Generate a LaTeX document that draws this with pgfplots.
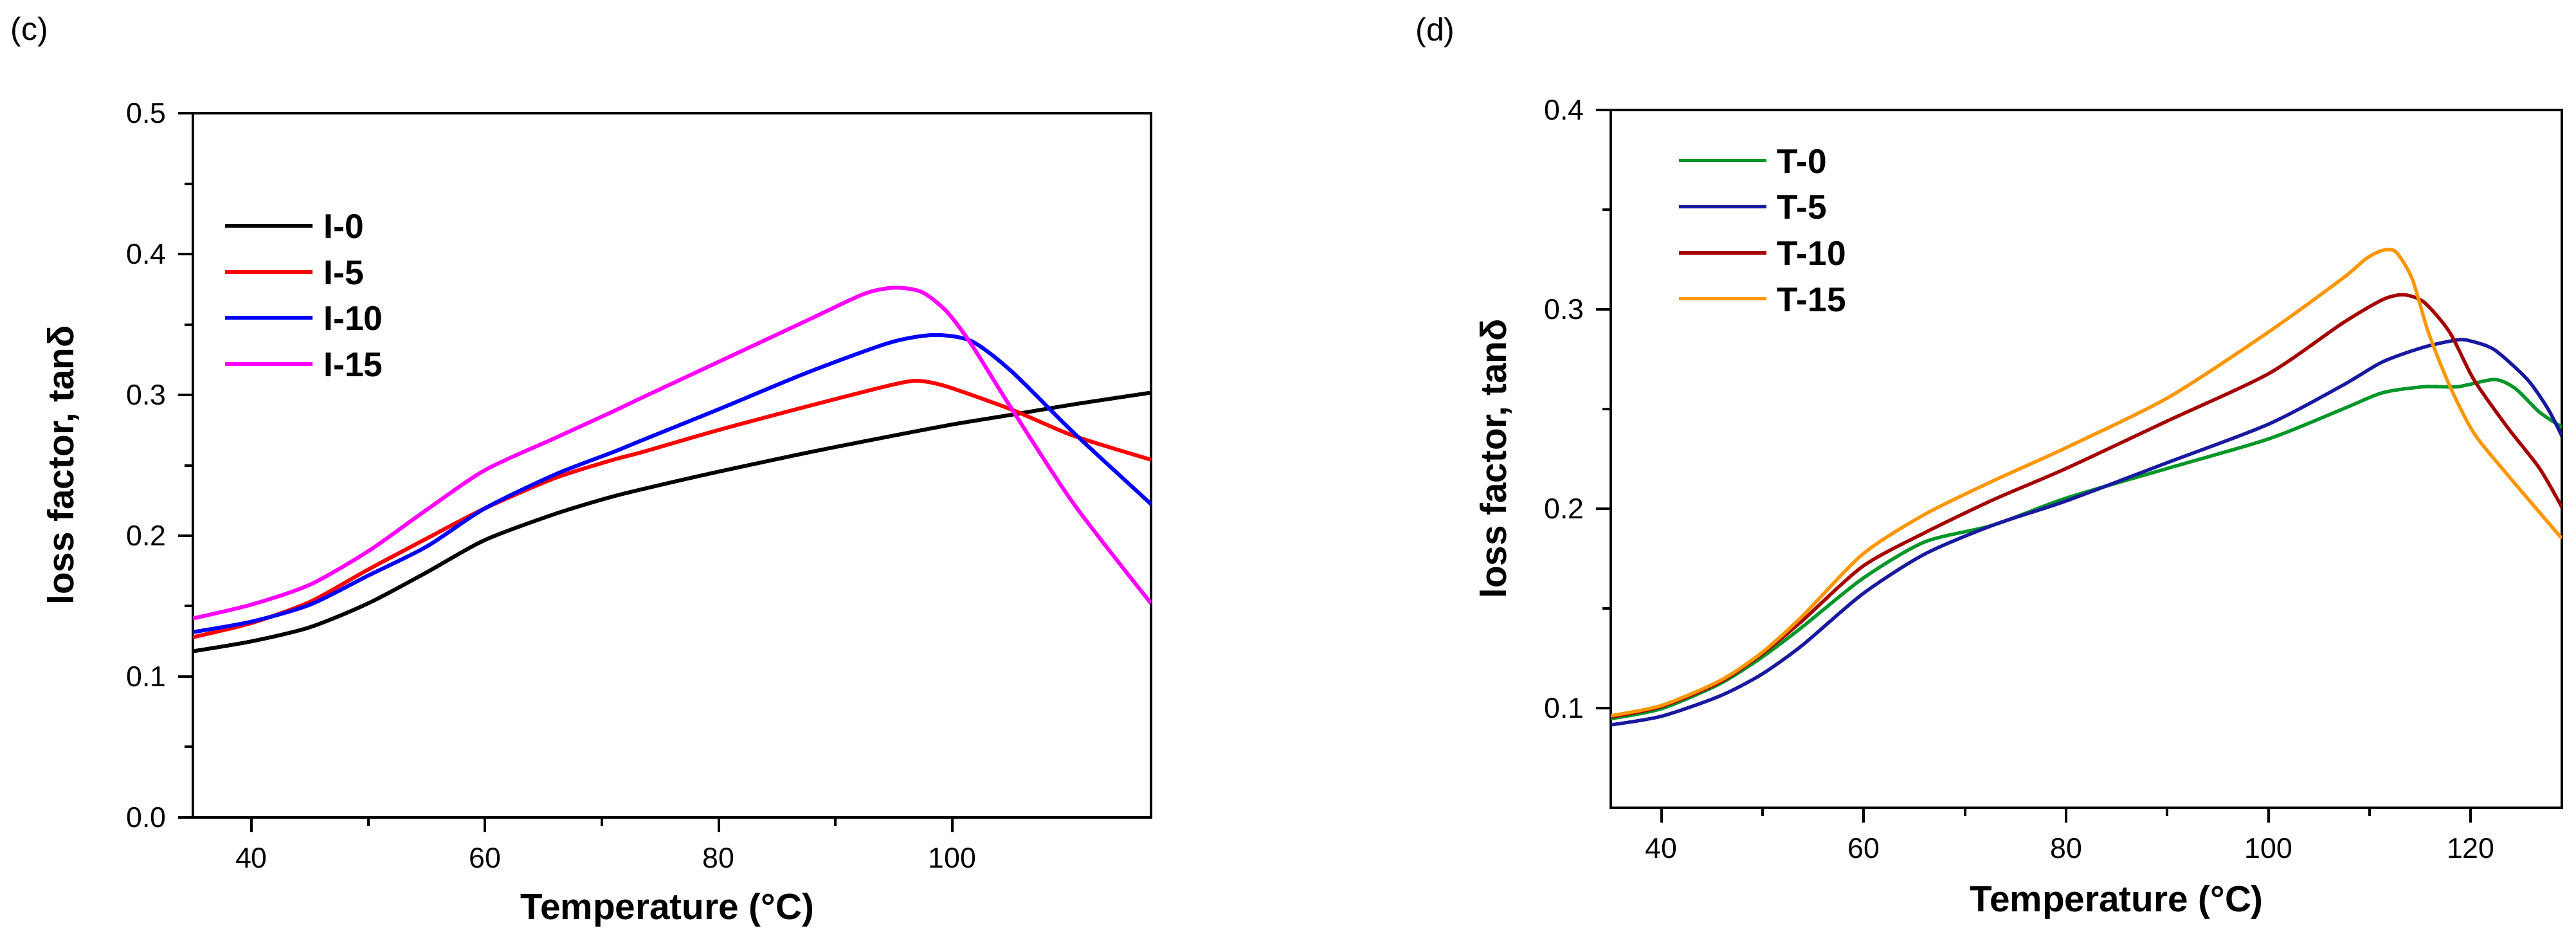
\documentclass[border=0pt]{standalone}
\usepackage{fontspec}
\setmainfont{Liberation Sans}
\usepackage{pgfplots}
\usepackage{pgfplotstable}
\pgfplotsset{compat=1.18}

\definecolor{izero}{RGB}{0,0,0}
\definecolor{ifive}{RGB}{255,0,0}
\definecolor{iten}{RGB}{0,0,255}
\definecolor{ififteen}{RGB}{255,0,255}
\definecolor{tzero}{RGB}{0,150,40}
\definecolor{tfive}{RGB}{25,25,160}
\definecolor{tten}{RGB}{165,0,0}
\definecolor{tfifteen}{RGB}{255,150,0}

% loss factor tan(delta) against temperature, (c) series I, (d) series T
\pgfplotstableread{
T v
35 0.118
40 0.125
45 0.135
50 0.152
55 0.174
60 0.197
66 0.2155
71 0.228
76 0.238
80 0.2455
87.6 0.259
94.6 0.2705
100 0.279
105 0.2858
110.4 0.2933
117 0.3016
}\Izero
\pgfplotstableread{
T v
35 0.128
40 0.138
45 0.153
50 0.176
55 0.198
60 0.2195
66 0.241
71 0.254
73.5 0.2595
80 0.2751
87.6 0.2919
94.6 0.3067
97 0.310
99.5 0.306
105 0.2898
110.4 0.2709
117 0.254
}\Ifive
\pgfplotstableread{
T v
35 0.1316
40 0.139
45 0.151
50 0.1717
55 0.1923
60 0.2195
66 0.2435
71 0.2595
73.5 0.268
80 0.2898
87.6 0.3159
94.6 0.337
98.4 0.3425
101.6 0.3383
105 0.3172
110.4 0.273
117 0.2225
}\Iten
\pgfplotstableread{
T v
35 0.1413
40 0.1511
45 0.1652
50 0.189
55 0.2184
60 0.2466
66 0.2694
71 0.2884
73.5 0.2983
80 0.3235
87.6 0.353
92.5 0.3719
95.1 0.3761
97.4 0.373
99.5 0.3593
101.6 0.3362
105.1 0.2898
110.4 0.2225
117 0.152
}\Ififteen

\pgfplotstableread{
T v
35 0.0947
40 0.0997
45.7 0.112
49.8 0.125
53.85 0.1404
59.9 0.165
66 0.1833
72.8 0.1918
80 0.2053
90 0.2202
100 0.235
107.3 0.2499
111.3 0.2582
115.4 0.2612
118.7 0.2612
122.35 0.2648
124.4 0.2603
126.8 0.2484
129 0.241
}\Tzero
\pgfplotstableread{
T v
35 0.0916
40 0.0959
45.7 0.1059
49.8 0.1166
53.85 0.1312
59.9 0.1573
66 0.1772
72.8 0.1918
80 0.2039
90 0.2231
100 0.2424
107.3 0.2618
111.3 0.2737
115.4 0.2811
118.7 0.2847
120 0.2841
122.35 0.2797
125.6 0.2648
127.65 0.2499
129 0.2365
}\Tfive
\pgfplotstableread{
T v
35 0.0956
40 0.1008
45.7 0.1128
49.8 0.1266
53.85 0.1435
59.9 0.1711
66 0.1879
72.8 0.2045
80 0.2202
90 0.244
100 0.2677
107.3 0.293
111.3 0.3049
113.4 0.3073
115.4 0.3035
117.9 0.2886
120.3 0.2648
123.6 0.241
126.8 0.2202
129 0.2008
}\Tten
\pgfplotstableread{
T v
35 0.0962
40 0.1013
45.7 0.1135
49.8 0.1273
53.85 0.1457
59.9 0.1772
66 0.1971
72.8 0.214
80 0.2306
90.1 0.2558
100 0.2886
107.3 0.3154
109.7 0.3256
111.3 0.3296
112.6 0.3288
114.2 0.3154
115.8 0.2886
117.9 0.2618
120.3 0.238
123.6 0.2172
129 0.1851
}\Tfifteen

\newcommand{\labelfont}{\bfseries\fontsize{8.5}{10}\selectfont}

\pgfplotsset{
  dma/.style={
    scale only axis,
    axis line style={line width=0.6pt},
    tick align=outside,
    xtick pos=bottom, ytick pos=left,
    major tick length=3.45pt,
    minor tick length=2pt,
    every tick/.append style={line width=0.6pt, black},
    minor x tick num=1, minor y tick num=1,
    tick label style={font=\fontsize{6.7}{8}\selectfont},
    /pgf/number format/assume math mode=true,
    yticklabel style={anchor=east, inner sep=0pt, xshift=-2.55pt,
      /pgf/number format/.cd, fixed, fixed zerofill, precision=1},
    xticklabel style={anchor=north, inner sep=0pt, yshift=-3.5pt},
    xlabel={Temperature (°C)},
    ylabel={loss factor, tanδ},
    legend cell align=left,
    legend image code/.code={\draw[##1] (0pt,0pt) -- (20.4pt,0pt);},
    legend style={draw=none, fill=none, inner sep=0pt, outer sep=0pt,
      row sep=4.9pt, column sep=2.2pt, anchor=north west,
      font=\bfseries\fontsize{8}{9.6}\selectfont,
      nodes={inner sep=0pt, text height=5.85pt, text depth=0pt}},
  },
  curve/.style={line width=0.9pt, smooth, tension=0.45, no markers},
}

\begin{document}
\begin{tikzpicture}
\useasboundingbox (0,0) rectangle (600.9pt,216.9pt);

\node[inner sep=0pt, font=\fontsize{7.5}{9}\selectfont] at (6.9pt,209.4pt) {(c)};
\node[inner sep=0pt, font=\fontsize{7.5}{9}\selectfont] at (334.8pt,209.25pt) {(d)};

\begin{axis}[dma,
  at={(45pt,26.25pt)}, anchor=south west,
  width=223.5pt, height=164.25pt,
  xmin=35, xmax=117, ymin=0, ymax=0.5,
  xtick={40,60,80,100}, ytick={0,0.1,0.2,0.3,0.4,0.5},
  every axis x label/.style={at={(axis description cs:0.4953,-0.1443)}, anchor=base, inner sep=0pt, font=\labelfont},
  every axis y label/.style={at={(axis description cs:-0.1242,0.5)}, rotate=90, anchor=base, inner sep=0pt, font=\labelfont},
  legend style={at={(axis description cs:0.0315,0.858)}},
]
\addplot[curve, izero] table[x=T, y=v] {\Izero};
\addplot[curve, ifive] table[x=T, y=v] {\Ifive};
\addplot[curve, iten] table[x=T, y=v] {\Iten};
\addplot[curve, ififteen] table[x=T, y=v] {\Ififteen};
\legend{I-0, I-5, I-10, I-15}
\end{axis}

\begin{axis}[dma,
  at={(375.75pt,28.5pt)}, anchor=south west,
  width=221.85pt, height=162.75pt,
  xmin=35, xmax=129, ymin=0.05, ymax=0.4,
  xtick={40,60,80,100,120}, ytick={0.1,0.2,0.3,0.4},
  every axis x label/.style={at={(axis description cs:0.532,-0.1484)}, anchor=base, inner sep=0pt, font=\labelfont},
  every axis y label/.style={at={(axis description cs:-0.1102,0.5)}, rotate=90, anchor=base, inner sep=0pt, font=\labelfont},
  legend style={at={(axis description cs:0.0696,0.9456)}},
]
\addplot[curve, line width=0.8pt, tzero] table[x=T, y=v] {\Tzero};
\addplot[curve, line width=0.8pt, tfive] table[x=T, y=v] {\Tfive};
\addplot[curve, line width=0.8pt, tten] table[x=T, y=v] {\Tten};
\addplot[curve, line width=0.8pt, tfifteen] table[x=T, y=v] {\Tfifteen};
\legend{T-0, T-5, T-10, T-15}
\end{axis}
\end{tikzpicture}
\end{document}
